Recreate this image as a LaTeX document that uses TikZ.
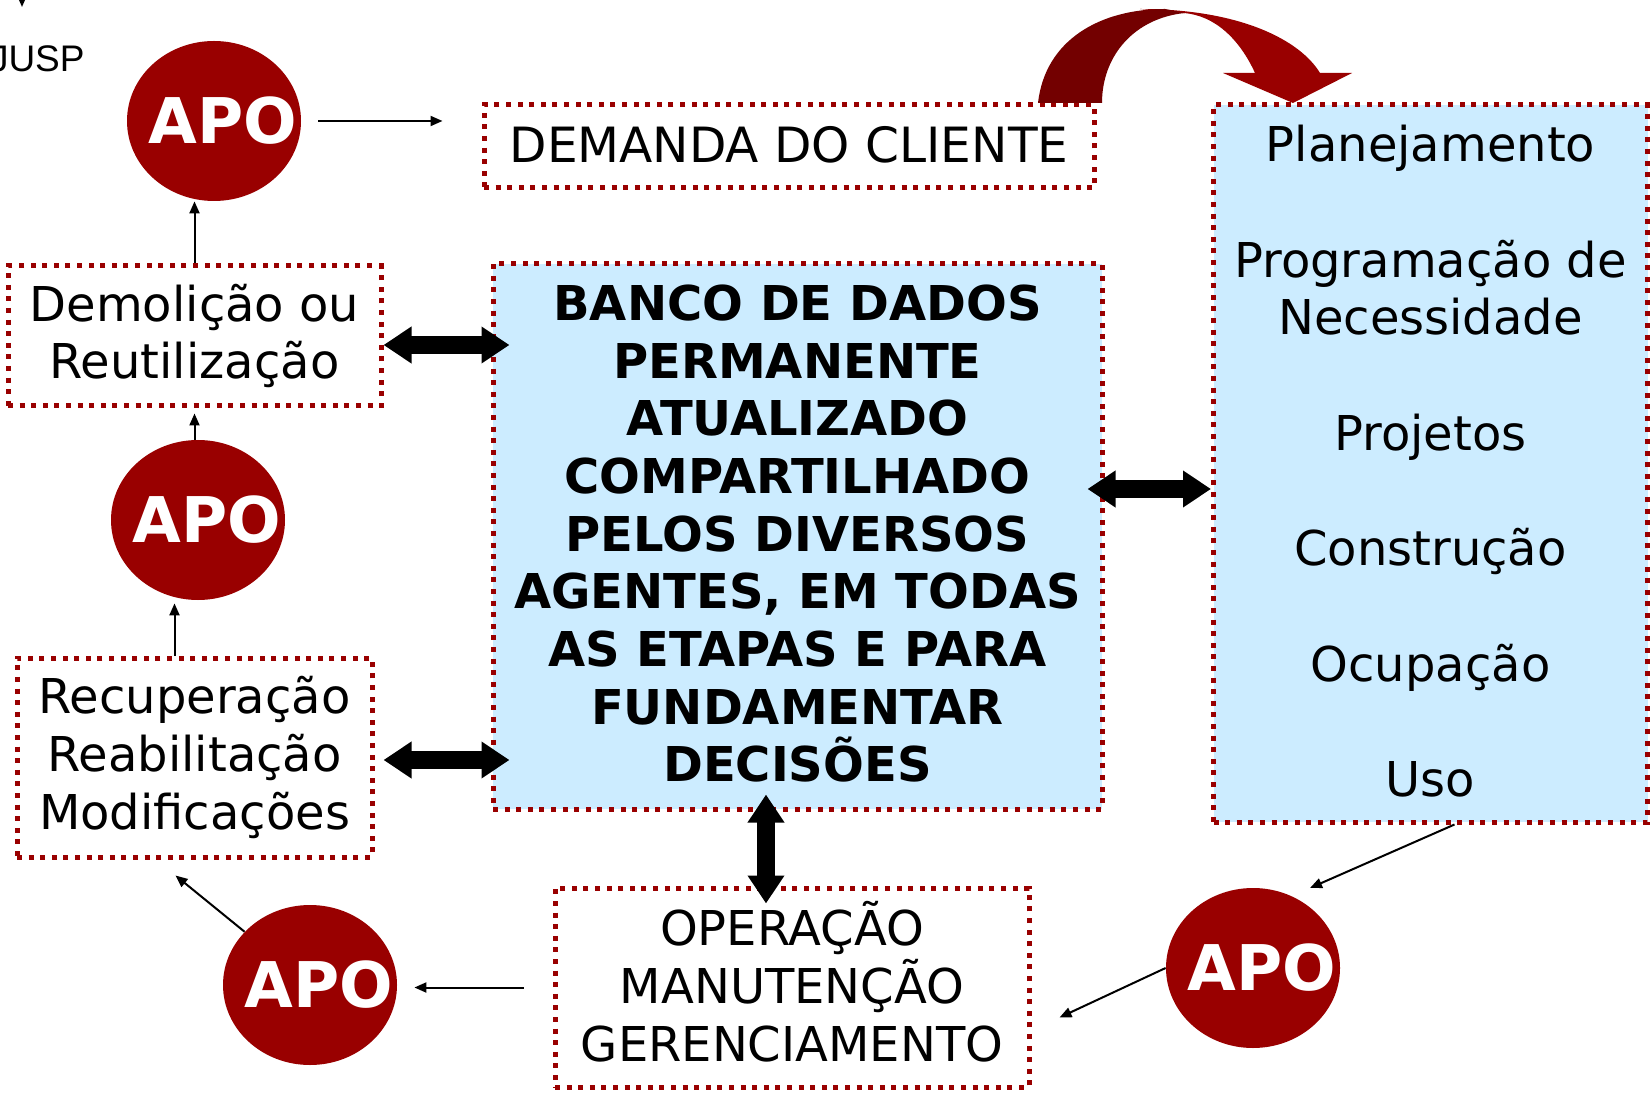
\documentclass[tikz,border=0pt]{standalone}
\usepackage{fontspec}
\setmainfont{DejaVu Sans}
\newfontfamily\uspfont{Liberation Sans}
\usetikzlibrary{arrows.meta,shapes.geometric}
\definecolor{apored}{HTML}{990000}
\definecolor{apodark}{HTML}{730000}
\definecolor{bancoblue}{HTML}{CCECFF}
\newcommand\fundo[1]{\rule[-#1]{0pt}{0pt}}
\tikzset{
  caixa/.style={draw=apored, line width=2.5pt, dash pattern=on 2.5pt off 3.3pt, inner sep=0pt, align=center, font=\fontsize{24}{28.85}\selectfont},
  apo/.style={ellipse, fill=apored, inner sep=0pt, minimum width=87pt, minimum height=80pt,
    label={[text=white, inner sep=0pt, xshift=4.5pt, font=\fontsize{31.5}{31.5}\selectfont\bfseries]center:APO}},
  fina/.style={-{Triangle[length=6pt,width=5pt]}, line width=1pt},
  grossa/.style={{Triangle[length=14pt,width=17.5pt]}-{Triangle[length=14pt,width=17.5pt]}, line width=9pt},
}
\begin{document}
\begin{tikzpicture}[x=0.5pt, y=-0.5pt]
\useasboundingbox (0,0) rectangle (1652,1095);

\node[caixa, minimum width=305pt, minimum height=41.5pt, text depth=2.5pt, font=\fontsize{24.3}{28.85}\selectfont] (demanda) at (789,146.5) {DEMANDA DO CLIENTE};
\node[caixa, minimum width=186.5pt, minimum height=70pt] (demol) at (194.5,336) {Demolição ou\\Reutilização};
\node[caixa, minimum width=177.5pt, minimum height=99.5pt] (recup) at (194.5,757.5) {Recuperação\\Reabilitação\\Modificações};
\node[caixa, fill=bancoblue, minimum width=304.5pt, minimum height=272.5pt, font=\fontsize{24}{28.85}\selectfont\bfseries] (banco) at (797.5,536.5)
  {BANCO DE DADOS\\PERMANENTE\\ATUALIZADO\\COMPARTILHADO\\PELOS DIVERSOS\\AGENTES, EM TODAS\\AS ETAPAS E PARA\\FUNDAMENTAR\\DECISÕES\fundo{3.2pt}};
\node[caixa, minimum width=237pt, minimum height=99.5pt] (operacao) at (792,987.5) {OPERAÇÃO\\MANUTENÇÃO\\GERENCIAMENTO\fundo{6.3pt}};
\node[caixa, fill=bancoblue, minimum width=217pt, minimum height=358.5pt] (etapas) at (1430.5,463.5)
  {Planejamento\\[28.85pt]Programação de\\Necessidade\\[28.85pt]Projetos\\[28.85pt]Construção\\[28.85pt]Ocupação\\[28.85pt]Uso\fundo{2.6pt}};

\node[apo] (apo1) at (214,121) {};
\node[apo] (apo2) at (198,520) {};
\node[apo] (apo3) at (310,985) {};
\node[apo] (apo4) at (1253,968) {};

\node[font=\uspfont\fontsize{18.5}{18.5}\selectfont, anchor=east, inner sep=0pt] (usp) at (85,58.5) {JUSP};
\coordinate (topo) at (22,-30);
\coordinate (topofim) at (22,7);
\draw[fina] (topo) -- (topofim);

\draw[fina, shorten <=8.5pt, shorten >=19.5pt] (apo1.east) -- (apo1.east -| demanda.west);
\draw[fina] (demol.north) -- (demol.north |- apo1.south);
\draw[fina, shorten >=2.5pt] (apo2.north -| demol.south) -- (demol.south);
\draw[fina, shorten >=1.5pt] ([xshift=-10pt]recup.north) -- ([xshift=-10pt]recup.north |- apo2.south);
\draw[fina] (apo3) -- ([shift={(-9.5pt,-8pt)}]recup.south);
\draw[fina, shorten <=14.5pt, shorten >=8.5pt] (operacao.west) -- (operacao.west -| apo3.east);
\draw[fina] ([xshift=12pt]etapas.south) -- ([shift={(28.5pt,40pt)}]apo4.center);
\draw[fina] (apo4.west) -- ([shift={(14pt,-15pt)}]operacao.east);

\draw[grossa, shorten >=-9.5pt] ([yshift=-4.5pt]demol.east) -- ([yshift=-4.5pt]demol.east -| banco.west);
\draw[grossa, shorten <=4.5pt, shorten >=-9.5pt] ([yshift=-1.25pt]recup.east) -- ([yshift=-1.25pt]recup.east -| banco.west);
\draw[grossa, shorten <=-8.5pt] ([yshift=23.75pt]banco.east) -- ([yshift=23.75pt]banco.east -| etapas.west);
\draw[grossa, shorten <=-8.5pt, shorten >=-9pt] ([xshift=-15.75pt]banco.south) -- ([xshift=-15.75pt]banco.south |- operacao.north);

\fill[apored] (1140,9) .. controls (1240,9) and (1300,40) .. (1320,73) -- (1352,73) -- (1293,103) -- (1223,73) -- (1255,73)
  .. controls (1240,40) and (1215,15) .. (1183,13) -- cycle;
\fill[apodark] (1038,103) .. controls (1045,40) and (1100,9) .. (1165,9) -- (1185,13)
  .. controls (1135,18) and (1102,55) .. (1102,103) -- cycle;
\end{tikzpicture}
\end{document}
